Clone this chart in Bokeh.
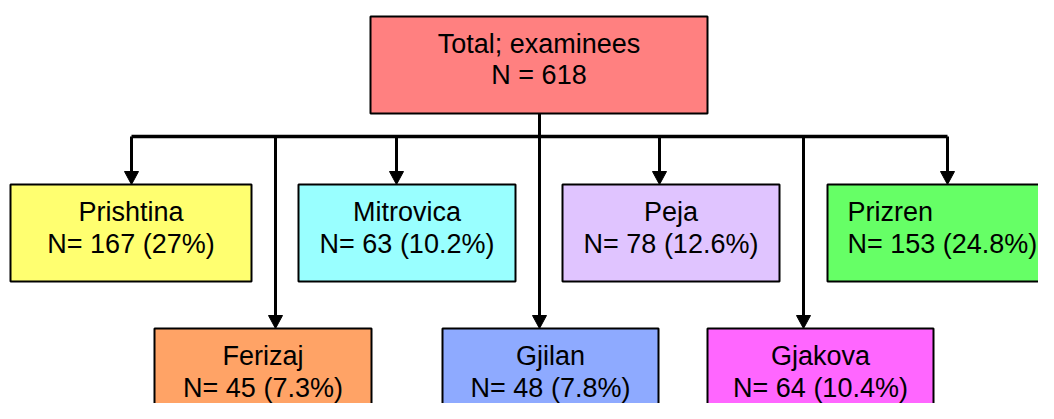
from bokeh.plotting import figure
from bokeh.models import Range1d
from bokeh.core.properties import value
from bokeh.embed import file_html
from bokeh.resources import INLINE

# ---------------- data ----------------
root_title = "Total; examinees"
root_n = 618
root_color = "#FF8080"

regions = ["Prishtina", "Ferizaj", "Mitrovica", "Gjilan", "Peja", "Gjakova", "Prizren"]
counts = [167, 45, 63, 48, 78, 64, 153]
percents = [27.0, 7.3, 10.2, 7.8, 12.6, 10.4, 24.8]
colors = ["#FFFF70", "#FFA366", "#99FFFF", "#8EAAFF", "#E0C4FF", "#FF66FF", "#66FF66"]

# ---------------- layout (pixel space of the picture) ----------------
row = [0, 1, 0, 1, 0, 1, 0]              # 0 = upper row, 1 = lower row
box_left = [10, 154, 298, 442, 562, 707, 827]
box_right = [251, 371, 515, 658, 779, 933, 1067]
arrow_x = [131, 275, 396, 539, 659, 803, 947]
left_aligned = [False, False, False, False, False, False, True]
row_top = [184, 328]
row_bottom = [281, 450]
root_box = (370, 707, 16, 113)
root_x = 539
bar_y = 136
LINE1, LINE2 = 27, 59
FONT = value("Liberation Sans")
FS = "27px"

W, H = 1038, 403
p = figure(width=W, height=H, output_backend="svg", toolbar_location=None,
           x_range=Range1d(0, W), y_range=Range1d(H, 0),
           min_border=0)
p.axis.visible = False
p.grid.visible = False
p.outline_line_color = None
p.background_fill_color = "white"
p.border_fill_color = "white"

# root box
l, r, t, b = root_box
p.quad(left=[l], right=[r], top=[t], bottom=[b], fill_color=root_color,
       line_color="black", line_width=2)
cx = (l + r) / 2
p.text(x=[cx, cx], y=[t + LINE1, t + LINE2 - 1], text=[root_title, f"N = {root_n}"],
       text_font=FONT, text_font_size=FS, text_align="center",
       text_baseline="alphabetic", text_color="black")

# connector lines
p.line(x=[root_x, root_x], y=[b, bar_y], line_color="black", line_width=3)
p.line(x=[min(arrow_x), max(arrow_x)], y=[bar_y, bar_y], line_color="black", line_width=3.5)

AH, AW = 13, 7
for i, name in enumerate(regions):
    top = row_top[row[i]]
    bottom = row_bottom[row[i]]
    ax = arrow_x[i]
    p.line(x=[ax, ax], y=[bar_y, top - AH + 1], line_color="black", line_width=3)
    p.patch(x=[ax - AW, ax + AW, ax], y=[top - AH, top - AH, top],
            fill_color="black", line_color="black", line_width=1)
    p.quad(left=[box_left[i]], right=[box_right[i]], top=[top], bottom=[bottom],
           fill_color=colors[i], line_color="black", line_width=2)
    label2 = f"N= {counts[i]} ({percents[i]:g}%)"
    if left_aligned[i]:
        tx = box_left[i] + 20
        align = "left"
    else:
        tx = (box_left[i] + box_right[i]) / 2
        align = "center"
    p.text(x=[tx, tx], y=[top + LINE1, top + LINE2], text=[name, label2],
           text_font=FONT, text_font_size=FS, text_align=align,
           text_baseline="alphabetic", text_color="black")

open("out.html", "w").write(file_html(p, INLINE))
